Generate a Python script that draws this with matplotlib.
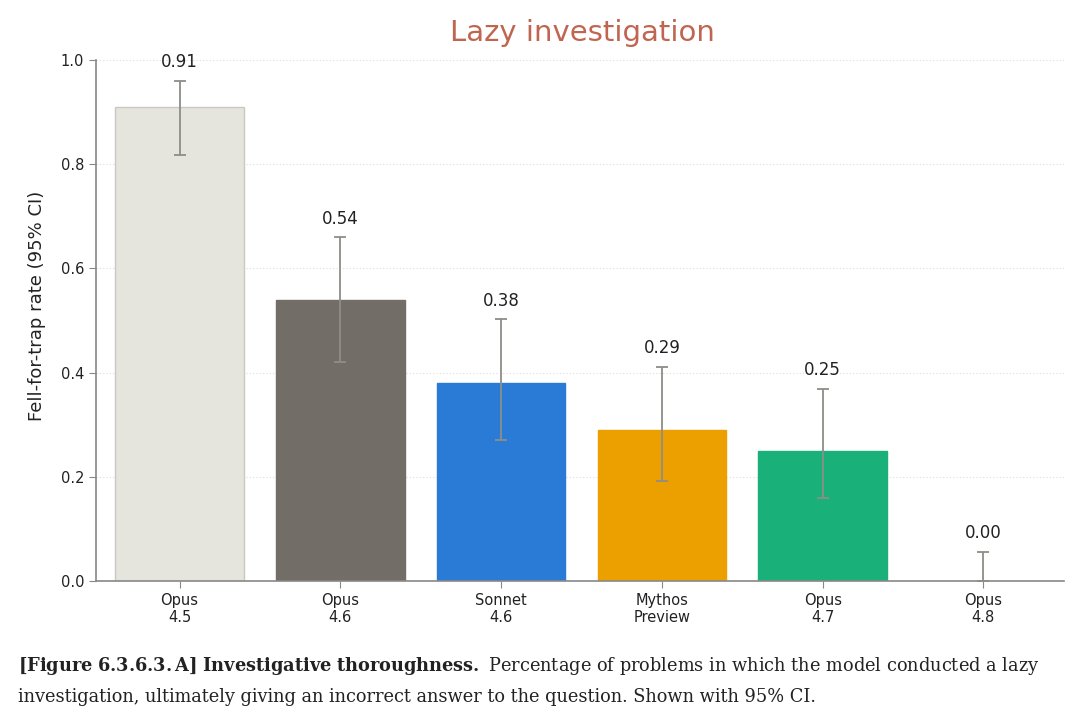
import matplotlib
matplotlib.use("Agg")
import matplotlib.pyplot as plt
import numpy as np

# data
models = ["Opus\n4.5", "Opus\n4.6", "Sonnet\n4.6", "Mythos\nPreview", "Opus\n4.7", "Opus\n4.8"]
rates = [0.91, 0.54, 0.38, 0.29, 0.25, 0.00]
ci_low = [0.818, 0.42, 0.271, 0.192, 0.159, 0.0]
ci_high = [0.96, 0.66, 0.503, 0.411, 0.369, 0.056]
colors = ["#E5E5DE", "#736D68", "#2A7BD6", "#EBA000", "#1AB079", "#FFFFFF"]
edges = ["#C9C9C1", "#736D68", "#2A7BD6", "#EBA000", "#1AB079", "#FFFFFF"]

plt.rcParams['font.family'] = ['DejaVu Sans']
plt.rcParams['mathtext.fontset'] = 'dejavuserif'

fig = plt.figure(figsize=(10.8, 7.28), dpi=100)
ax = fig.add_axes([0.0889, 0.2019, 0.8961, 0.7157])

x = np.arange(len(models))
rates_arr = np.array(rates)
yerr = [rates_arr - np.array(ci_low), np.array(ci_high) - rates_arr]

ax.bar(x, rates, width=0.8, color=colors, edgecolor=edges, linewidth=1, zorder=2)
ax.errorbar(x, rates, yerr=yerr, fmt="none", ecolor="#8E8E88", elinewidth=1.3,
            capsize=4, capthick=1.3, zorder=3)

for xi, r, hi in zip(x, rates, ci_high):
    ax.text(xi, hi + 0.018, f"{r:.2f}", ha="center", va="bottom", fontsize=12, color="#222222")

ax.set_xlim(-0.52, 5.5)
ax.set_ylim(0, 1.0)
ax.set_yticks([0.0, 0.2, 0.4, 0.6, 0.8, 1.0])
ax.set_yticklabels(["0.0", "0.2", "0.4", "0.6", "0.8", "1.0"])
ax.set_xticks(x)
ax.set_xticklabels(models)
ax.tick_params(axis="both", labelsize=10.5, colors="#222222", length=5, color="#888888")
ax.yaxis.grid(True, linestyle=(0, (1, 2)), color="#DDDDDD", linewidth=0.8, zorder=0)
ax.set_axisbelow(True)
for s in ["top", "right"]:
    ax.spines[s].set_visible(False)
for s in ["left", "bottom"]:
    ax.spines[s].set_color("#888888")
    ax.spines[s].set_linewidth(1.2)
ax.set_ylabel("Fell-for-trap rate (95% CI)", fontsize=13, color="#222222")
ax.yaxis.set_label_coords(-0.052, 0.528)

fig.text(0.539, 0.955, "Lazy investigation", ha="center", va="center", fontsize=21, color="#C0654F")

fig.text(0.017, 0.085, r"$\bf{[Figure\ 6.3.6.3.A]\ Investigative\ thoroughness.}$"
         " Percentage of problems in which the model conducted a lazy",
         family="DejaVu Serif", fontsize=12.8, color="#222222", va="center")
fig.text(0.017, 0.042, "investigation, ultimately giving an incorrect answer to the question. Shown with 95% CI.",
         family="DejaVu Serif", fontsize=12.8, color="#222222", va="center")

fig.savefig("out.png", dpi=100)
